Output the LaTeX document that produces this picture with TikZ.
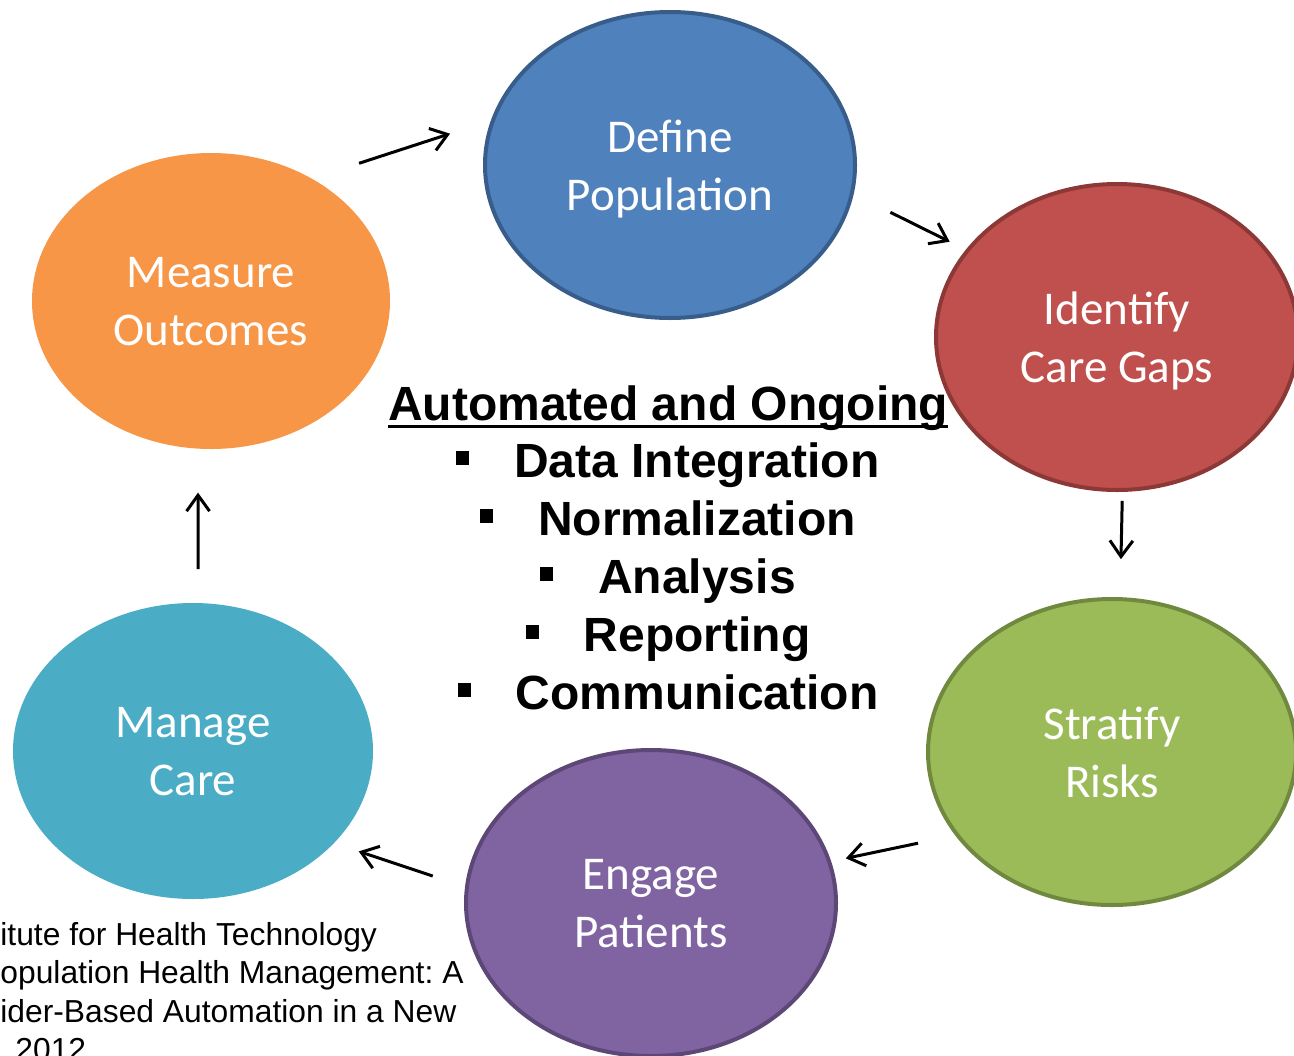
\documentclass[tikz,border=0pt]{standalone}
\usepackage{fontspec}
\setmainfont{Liberation Sans}
\newfontfamily\calibri{Carlito}
\usetikzlibrary{shapes.geometric,arrows.meta}
\frenchspacing

\definecolor{popblue}{HTML}{4F81BD}
\definecolor{popblueline}{HTML}{385D8A}
\definecolor{gapred}{HTML}{C0504D}
\definecolor{gapredline}{HTML}{8C3836}
\definecolor{riskgreen}{HTML}{9BBB59}
\definecolor{riskgreenline}{HTML}{71893F}
\definecolor{engpurple}{HTML}{8064A2}
\definecolor{engpurpleline}{HTML}{5C4776}
\definecolor{careteal}{HTML}{4BACC6}
\definecolor{outorange}{HTML}{F79646}

\newcommand{\bul}{\rule[6pt]{6.5pt}{7pt}\hspace{22.5pt}}
\newcommand{\thickul}[1]{\setbox0=\hbox{#1}\rlap{\rule[-4pt]{\wd0}{1.5pt}}\box0}

\tikzset{
  stage/.style={ellipse,text=white,align=center,inner sep=0pt,line width=2pt,text depth=0pt,
    font=\calibri\fontsize{23.5}{29}\selectfont},
  task/.style={anchor=base,inner sep=0pt,font=\bfseries\fontsize{24}{29}\selectfont},
  source/.style={anchor=base west,inner sep=0pt,font=\fontsize{15.9}{19}\selectfont},
  flow/.style={line width=1.5pt,-{Straight Barb[length=8pt,width=11.5pt]}}
}

\begin{document}
\begin{tikzpicture}[x=0.5pt,y=-0.5pt]
	\useasboundingbox (0,0) rectangle (1294,1055);
	\clip (0,0) rectangle (1294,1055);

	% cycle stages
	\node[stage,fill=popblue,draw=popblueline,minimum width=185pt,minimum height=153pt] (define) at (670,165) {Define\\Population};
	\node[stage,fill=gapred,draw=gapredline,minimum width=181pt,minimum height=153pt] (identify) at (1117,337) {Identify\\Care Gaps};
	\node[stage,fill=riskgreen,draw=riskgreenline,minimum width=184pt,minimum height=153pt] (stratify) at (1112,752) {Stratify\\Risks};
	\node[stage,fill=engpurple,draw=engpurpleline,minimum width=185pt,minimum height=153pt] (engage) at (651,903) {Engage\\Patients};
	\node[stage,fill=careteal,minimum width=180pt,minimum height=148pt] (manage) at (193,751) {Manage\\Care};
	\node[stage,fill=outorange,minimum width=179pt,minimum height=148pt] (measure) at (211,301) {Measure\\Outcomes};

	% centre list
	\node[task] (title) at (668,420) {\thickul{Automated and Ongoing}};
	\foreach \txt [count=\i] in {Data Integration,Normalization,Analysis,Reporting,Communication}
		\node[task] (task\i) at (668,419+58*\i) {\bul\txt};

	% source note (cut off at the edge)
	\foreach \txt [count=\i from 0] in {itute for Health Technology,opulation Health Management: A,ider-Based Automation in a New}
		\node[source] (src\i) at (0,945+38.5*\i) {\txt};
	\node[source] (src3) at (15,1060.5) {2012};

	% cycle arrows
	\draw[flow,shorten <=23.5pt,shorten >=21.5pt] (measure.50) -- (define.166);
	\draw[flow,shorten <=20.5pt,shorten >=9pt] (define.351) -- (identify.150);
	\draw[flow,shorten <=4.5pt,shorten >=19pt] (identify.-88.5) -- (stratify.87);
	\draw[flow,shorten <=19pt,shorten >=7.5pt] (stratify.208.5) -- (engage.13.7);
	\draw[flow,shorten <=17pt,shorten >=12pt] (engage.175) -- (manage.327);
	\draw[flow,shorten <=16pt,shorten >=21pt] (manage.88) -- (measure.265);
\end{tikzpicture}
\end{document}
